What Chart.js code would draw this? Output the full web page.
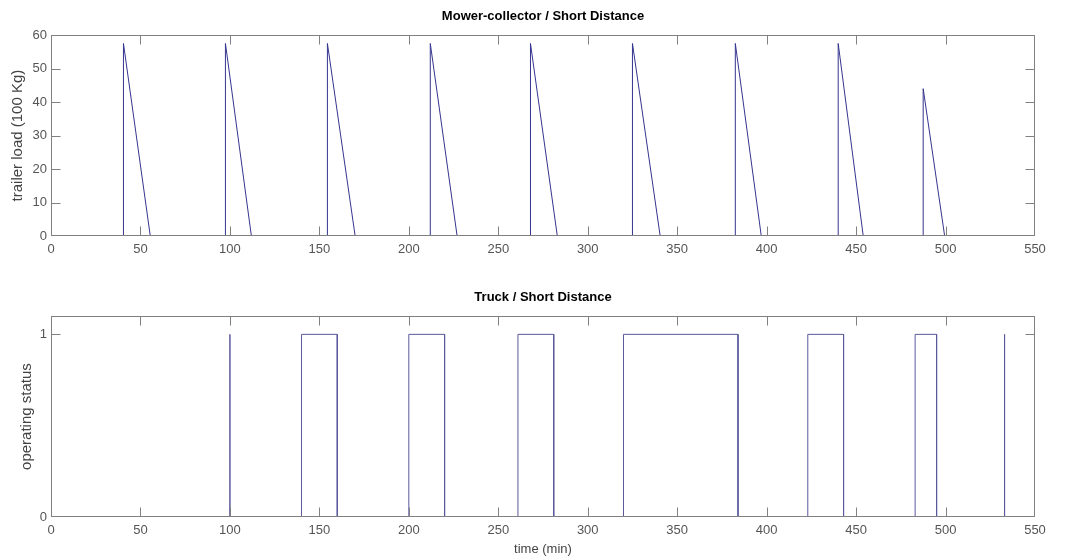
<!DOCTYPE html>
<html>
<head>
<meta charset="utf-8">
<script src="https://cdn.jsdelivr.net/npm/chart.js@4/dist/chart.umd.min.js"></script>
<style>
  html, body { margin: 0; padding: 0; background: #ffffff; }
  #wrap { position: relative; width: 1068px; height: 560px; }
  .panel { position: absolute; left: 0; width: 1068px; height: 280px; }
  #p1 { top: 0; }
  #p2 { top: 280px; }
</style>
</head>
<body>
<div id="wrap">
  <div class="panel" id="p1"><canvas id="c1" width="1068" height="280"></canvas></div>
  <div class="panel" id="p2"><canvas id="c2" width="1068" height="280"></canvas></div>
</div>
<script>
// ---- Data ----
// Mower-collector: trailer load (100 Kg)
const mowerRiseTimes  = [40.5, 97.5, 154.5, 212, 268, 325, 382.5, 440, 487.5];
const mowerPeakLoads  = [57.5, 57.5, 57.5, 57.5, 57.5, 57.5, 57.5, 57.5, 44];
const mowerEmptyTimes = [55.5, 112, 170, 227, 283, 340.5, 397, 454, 499.5];

// Truck: operating status (on/off intervals, equal values = short spike)
const truckOnTimes  = [100, 140, 200, 261, 320, 423, 483, 533];
const truckOffTimes = [100, 160, 220, 281, 384, 443, 495, 533];

// Tick labels
const xTicks = [0, 50, 100, 150, 200, 250, 300, 350, 400, 450, 500, 550];
const loadTicks = [0, 10, 20, 30, 40, 50, 60];
const statusTicks = [0, 1];

// ---- Build point series from the arrays ----
const mowerPoints = [{x: 0, y: 0}];
mowerRiseTimes.forEach((t, i) => {
  mowerPoints.push({x: t, y: 0});
  mowerPoints.push({x: t, y: mowerPeakLoads[i]});
  mowerPoints.push({x: mowerEmptyTimes[i], y: 0});
});

const truckPoints = [{x: 0, y: 0}];
truckOnTimes.forEach((t, i) => {
  truckPoints.push({x: t, y: 0});
  truckPoints.push({x: t, y: 1});
  truckPoints.push({x: truckOffTimes[i], y: 1});
  truckPoints.push({x: truckOffTimes[i], y: 0});
});

const FONT = "'Liberation Sans', Arial, Helvetica, sans-serif";
const TICK_COLOR = '#555555';
const FRAME_COLOR = '#808080';

// Frame box with inward tick marks (MATLAB-style axes)
const framePlugin = {
  id: 'frame',
  afterDatasetsDraw(chart) {
    const {ctx, chartArea: a, scales} = chart;
    const L = Math.round(a.left) + 0.5, R = Math.round(a.right) - 0.5;
    const T = Math.round(a.top) + 0.5, B = Math.round(a.bottom) - 0.5;
    const TL = 9;
    ctx.save();
    ctx.strokeStyle = FRAME_COLOR;
    ctx.lineWidth = 1;
    ctx.strokeRect(L, T, R - L, B - T);
    ctx.beginPath();
    scales.x.ticks.forEach(t => {
      const px = Math.round(scales.x.getPixelForValue(t.value)) + 0.5;
      if (px <= L + 1 || px >= R - 1) return;
      ctx.moveTo(px, B); ctx.lineTo(px, B - TL);
      ctx.moveTo(px, T); ctx.lineTo(px, T + TL);
    });
    scales.y.ticks.forEach(t => {
      const py = Math.round(scales.y.getPixelForValue(t.value)) + 0.5;
      if (py <= T + 1 || py >= B - 1) return;
      ctx.moveTo(L, py); ctx.lineTo(L + TL, py);
      ctx.moveTo(R, py); ctx.lineTo(R - TL, py);
    });
    ctx.stroke();
    ctx.restore();
  }
};

function makeChart(canvasId, opts) {
  return new Chart(document.getElementById(canvasId), {
    type: 'scatter',
    data: {
      datasets: [{
        data: opts.points,
        showLine: true,
        borderColor: opts.lineColor,
        borderWidth: 1,
        pointRadius: 0,
        pointHoverRadius: 0,
        tension: 0,
        fill: false
      }]
    },
    options: {
      responsive: false,
      animation: false,
      devicePixelRatio: 1,
      events: [],
      layout: { padding: { left: 0, right: 33, top: 0, bottom: 0 } },
      plugins: {
        legend: { display: false },
        tooltip: { enabled: false },
        title: {
          display: true,
          text: opts.title,
          fullSize: false,
          color: '#000000',
          font: { family: FONT, size: 13, weight: 'bold' },
          padding: opts.titlePadding
        }
      },
      scales: {
        x: {
          type: 'linear',
          min: 0, max: 550,
          afterBuildTicks: s => { s.ticks = xTicks.map(v => ({value: v})); },
          afterFit: s => { s.height = opts.xHeight; },
          grid: { display: false, drawTicks: false },
          border: { display: false },
          ticks: { color: TICK_COLOR, font: { family: FONT, size: 13 }, padding: 6, maxRotation: 0, autoSkip: false },
          title: opts.xTitle ? {
            display: true, text: opts.xTitle, color: '#444444',
            font: { family: FONT, size: 13 }, padding: { top: 0, bottom: 3 }
          } : { display: false }
        },
        y: {
          type: 'linear',
          min: opts.yMin, max: opts.yMax,
          afterBuildTicks: s => { s.ticks = opts.yTicks.map(v => ({value: v})); },
          afterFit: s => { s.width = 51; },
          grid: { display: false, drawTicks: false },
          border: { display: false },
          ticks: { color: TICK_COLOR, font: { family: FONT, size: 13 }, padding: 4, autoSkip: false },
          title: {
            display: true, text: opts.yTitle, color: '#444444',
            font: { family: FONT, size: 15 }, padding: { top: opts.yTitlePad, bottom: 0 }
          }
        }
      }
    },
    plugins: [framePlugin]
  });
}

makeChart('c1', {
  points: mowerPoints,
  lineColor: '#35358f',
  title: 'Mower-collector / Short Distance',
  titlePadding: { top: 9, bottom: 10.5 },
  xHeight: 44,
  xTitle: null,
  yMin: 0, yMax: 60,
  yTicks: loadTicks,
  yTitle: 'trailer load (100 Kg)',
  yTitlePad: 9
});

makeChart('c2', {
  points: truckPoints,
  lineColor: '#5a5a9c',
  title: 'Truck / Short Distance',
  titlePadding: { top: 10, bottom: 10.5 },
  xHeight: 43,
  xTitle: 'time (min)',
  yMin: 0, yMax: 1.1,
  yTicks: statusTicks,
  yTitle: 'operating status',
  yTitlePad: 18
});
</script>
</body>
</html>
